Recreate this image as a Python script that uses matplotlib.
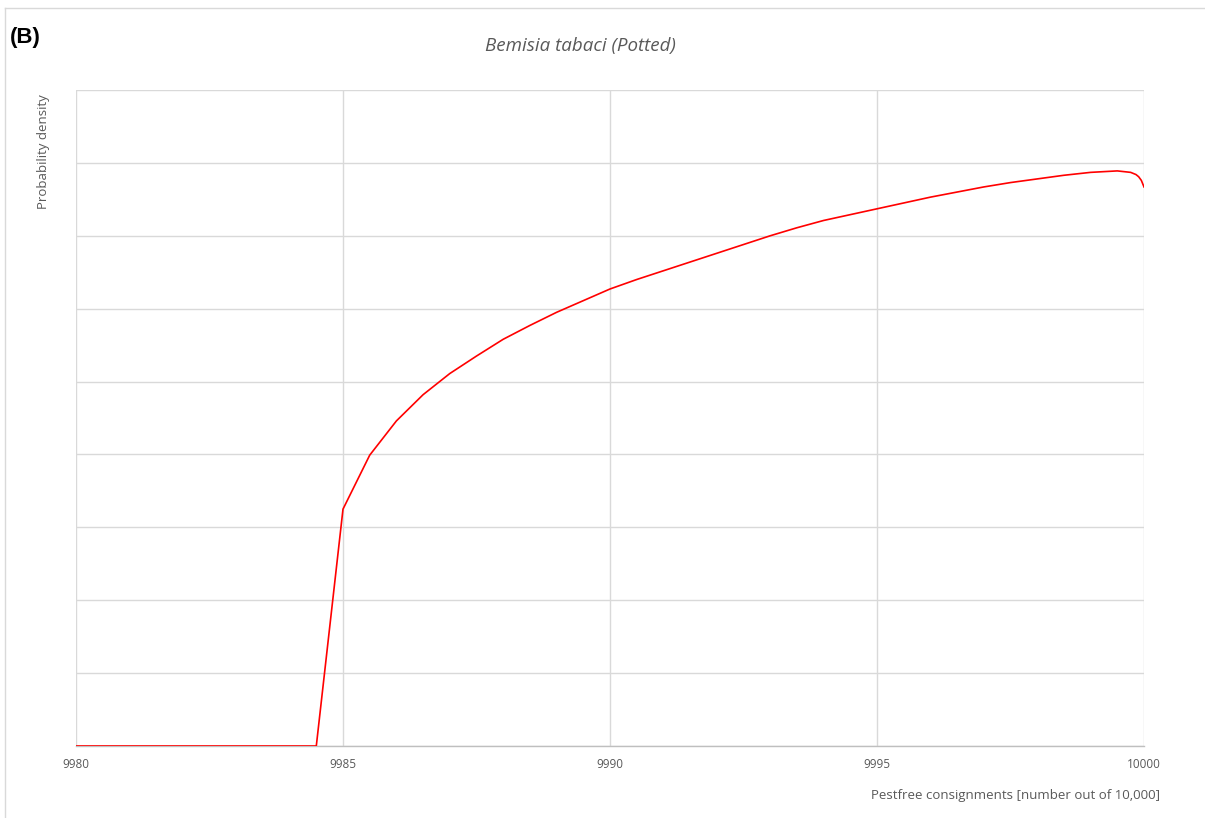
import numpy as np
import matplotlib
matplotlib.use("Agg")
from matplotlib import pyplot as plt
from matplotlib.lines import Line2D

plt.rcParams.update({
    "font.family": ["Open Sans", "DejaVu Sans"],
    "font.size": 9,
})

# values (y in grid units, axis has no labels)
consignments = [9980, 9984.5, 9985.0, 9985.5, 9986.0, 9986.5, 9987.0, 9987.5,
                9988.0, 9988.5, 9989.0, 9989.5, 9990.0, 9990.5, 9991.0,
                9991.5, 9992.0, 9992.5, 9993.0, 9993.5, 9994.0, 9994.5,
                9995.0, 9995.5, 9996.0, 9996.5, 9997.0, 9997.5, 9998.0,
                9998.5, 9999.0, 9999.5, 9999.75, 9999.85, 9999.9, 9999.95,
                10000.0]
density = [0.0, 0.0, 3.25, 3.99, 4.46, 4.82, 5.11, 5.35,
           5.58, 5.77, 5.95, 6.11, 6.27, 6.40, 6.52,
           6.64, 6.76, 6.88, 7.00, 7.11, 7.21, 7.29,
           7.37, 7.45, 7.53, 7.60, 7.67, 7.73, 7.78,
           7.83, 7.87, 7.89, 7.87, 7.84, 7.81, 7.76,
           7.67]
x_ticks = [9980, 9985, 9990, 9995, 10000]

fig = plt.figure(figsize=(12.05, 8.18), dpi=100)
ax = fig.add_axes([76 / 1205, 72 / 818, (1144 - 76) / 1205, (746 - 90) / 818])

ax.plot(consignments, density, color="#ff0000", lw=1.2, zorder=3)

ax.set_xlim(9980, 10000)
ax.set_ylim(0, 9)
ax.set_xticks(x_ticks)
ax.set_xticklabels([str(t) for t in x_ticks], color="#595959", fontsize=8.5)
ax.set_yticks(np.arange(0, 10, 1))
ax.set_yticklabels([])
ax.tick_params(length=0, pad=9)
ax.grid(True, color="#d9d9d9", lw=1)
ax.set_axisbelow(True)
for side in ["top", "right", "left"]:
    ax.spines[side].set_visible(False)
ax.spines["bottom"].set_color("#bfbfbf")
ax.spines["bottom"].set_linewidth(1)

# texts
fig.text(580 / 1205, 1 - 46 / 818, "Bemisia tabaci (Potted)", ha="center",
         va="center", fontsize=13.5, style="italic", color="#595959")
fig.text(10 / 1205, 1 - 37 / 818, "(B)", ha="left", va="center",
         fontsize=16, fontweight="bold", family="Liberation Sans", color="black")
fig.text(43 / 1205, 1 - 152 / 818, "Probability density", rotation=90,
         ha="center", va="center", fontsize=9.5, color="#595959")
fig.text(1160 / 1205, 1 - 796 / 818, "Pestfree consignments [number out of 10,000]",
         ha="right", va="center", fontsize=9.5, color="#595959")

# outer chart frame
fig.add_artist(Line2D([5 / 1205, 5 / 1205], [0, 1 - 8 / 818],
                      transform=fig.transFigure, color="#d9d9d9", lw=1))
fig.add_artist(Line2D([5 / 1205, 1], [1 - 8 / 818, 1 - 8 / 818],
                      transform=fig.transFigure, color="#d9d9d9", lw=1))

fig.savefig("out.png", dpi=100)
